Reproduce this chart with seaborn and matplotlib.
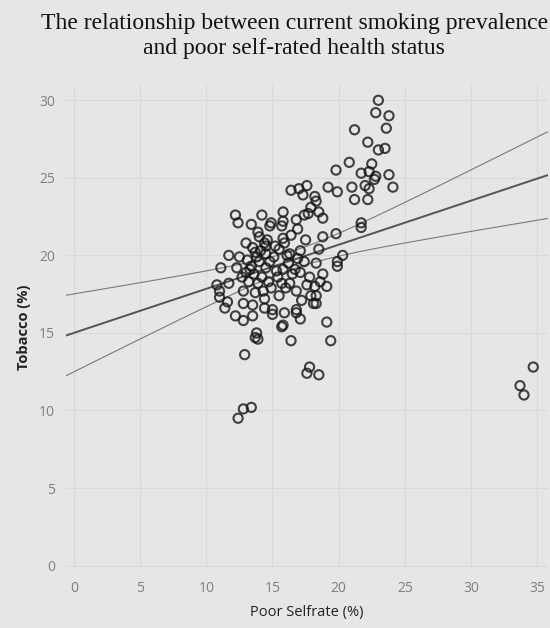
import numpy as np
import pandas as pd
import matplotlib
matplotlib.use("Agg")
import matplotlib.pyplot as plt
import seaborn as sns

# 读取的数据点 (估计值): 吸烟率 vs 自评健康差
poor_selfrate = [
    23.0, 22.8, 23.8, 23.6, 21.2, 22.2, 23.0, 23.5, 20.8, 19.8,
    22.5, 21.7, 22.3, 22.8, 22.7, 23.8, 24.1, 19.2, 19.9, 21.0,
    22.0, 22.3, 21.2, 22.2, 16.4, 17.0, 17.6, 17.3, 18.2, 18.3,
    17.9, 18.5, 18.8, 17.4, 17.7, 16.8, 16.9, 15.8, 15.8, 15.7,
    14.9, 14.8, 14.2, 13.4, 12.4, 12.2, 13.9, 14.0, 14.4, 14.5,
    13.0, 13.5, 13.7, 15.8, 15.2, 18.8, 19.8, 21.7, 21.7, 18.5,
    17.1, 16.3, 16.1, 20.3, 19.9, 19.9, 18.3, 16.7, 17.1, 18.8,
    19.1, 17.8, 17.6, 18.2, 18.6, 16.8, 17.9, 18.3, 18.1, 18.3,
    17.2, 16.8, 16.8, 15.5, 14.9, 14.7, 15.7, 16.3, 15.8, 15.3,
    14.0, 14.5, 13.3, 13.0, 14.5, 13.7, 14.3, 14.4, 14.4, 12.8,
    12.8, 13.5, 13.5, 15.0, 15.0, 15.9, 15.8, 15.7, 12.8, 19.1,
    13.8, 13.7, 13.9, 16.4, 19.4, 12.9, 17.8, 17.6, 18.5, 12.8,
    13.4, 12.4, 11.7, 11.1, 10.8, 11.0, 11.0, 11.7, 11.6, 11.4,
    12.2, 34.7, 33.7, 34.0,
    12.5, 13.1, 13.4, 13.6, 13.9, 14.2, 14.8, 15.1, 15.5, 15.9,
    16.2, 16.5, 13.2, 12.7, 14.1, 15.4, 16.0, 12.3, 14.6, 13.8,
    16.9, 17.4, 16.4, 17.5, 17.1,
]
tobacco = [
    30.0, 29.2, 29.0, 28.2, 28.1, 27.3, 26.8, 26.9, 26.0, 25.5,
    25.9, 25.3, 25.4, 25.1, 24.9, 25.2, 24.4, 24.4, 24.1, 24.4,
    24.5, 24.3, 23.6, 23.6, 24.2, 24.3, 24.5, 23.9, 23.8, 23.5,
    23.1, 22.8, 22.4, 22.6, 22.7, 22.3, 21.7, 22.8, 22.2, 21.9,
    22.1, 21.9, 22.6, 22.0, 22.1, 22.6, 21.5, 21.2, 20.8, 20.6,
    20.8, 20.5, 20.2, 21.1, 20.6, 21.2, 21.4, 22.1, 21.8, 20.4,
    20.3, 20.1, 20.0, 20.0, 19.6, 19.3, 19.5, 19.1, 18.9, 18.8,
    18.0, 18.6, 18.1, 18.0, 18.3, 17.7, 17.4, 17.4, 16.9, 16.9,
    17.1, 16.5, 16.3, 17.4, 17.9, 18.3, 18.2, 18.2, 19.1, 19.0,
    19.6, 20.1, 19.1, 18.9, 19.2, 17.6, 17.7, 17.2, 16.6, 17.7,
    16.9, 16.8, 16.1, 16.5, 16.2, 16.3, 15.5, 15.4, 15.8, 15.7,
    15.0, 14.7, 14.6, 14.5, 14.5, 13.6, 12.8, 12.4, 12.3, 10.1,
    10.2, 9.5, 20.0, 19.2, 18.1, 17.7, 17.3, 18.2, 17.0, 16.6,
    16.1, 12.8, 11.6, 11.0,
    19.9, 19.7, 19.3, 18.8, 18.2, 18.6, 19.6, 19.9, 20.4, 20.8,
    19.5, 18.8, 18.3, 18.6, 20.3, 18.6, 17.9, 19.2, 21.0, 19.9,
    19.8, 19.6, 21.3, 21.0, 15.9,
]
x_ticks = [0, 5, 10, 15, 20, 25, 30, 35]
y_ticks = [0, 5, 10, 15, 20, 25, 30]

df = pd.DataFrame({"Poor Selfrate (%)": poor_selfrate, "Tobacco (%)": tobacco})

bg = "#e6e6e6"
sns.set_style("whitegrid")
plt.rcParams["font.family"] = ["Open Sans", "DejaVu Sans"]

fig = plt.figure(figsize=(5.5, 6.28), dpi=100, facecolor=bg)
ax = fig.add_axes([0.12, 0.092, 0.876, 0.773])
ax.set_facecolor(bg)
ax.set_xlim(-0.6, 35.8)
ax.set_ylim(-0.3, 31.0)

sns.regplot(data=df, x="Poor Selfrate (%)", y="Tobacco (%)", ax=ax,
            ci=None, truncate=False,
            scatter_kws={"facecolors": "none", "edgecolors": "#161616",
                         "linewidths": 1.5, "s": 44, "zorder": 3},
            line_kws={"color": "#555555", "lw": 1.4, "zorder": 2})

# 95% 置信带 (均值)
x = np.array(poor_selfrate)
y = np.array(tobacco)
n = len(x)
b1, b0 = np.polyfit(x, y, 1)
resid = y - (b0 + b1 * x)
s = np.sqrt(np.sum(resid ** 2) / (n - 2))
xs = np.linspace(-0.6, 35.8, 100)
se = s * np.sqrt(1 / n + (xs - x.mean()) ** 2 / np.sum((x - x.mean()) ** 2))
yhat = b0 + b1 * xs
ax.plot(xs, yhat + 1.975 * se, color="#7a7a7a", lw=0.8, zorder=2)
ax.plot(xs, yhat - 1.975 * se, color="#7a7a7a", lw=0.8, zorder=2)

ax.set_xticks(x_ticks)
ax.set_yticks(y_ticks)
ax.grid(True, color="#d9d9d9", lw=0.8)
for sp in ax.spines.values():
    sp.set_visible(False)
ax.tick_params(length=0, labelsize=10, labelcolor="#7f7f7f", pad=8)
ax.set_xlabel("Poor Selfrate (%)", fontsize=10.5, color="#222222", labelpad=6)
ax.set_ylabel("Tobacco (%)", fontsize=10.5, color="#222222", fontweight="bold", labelpad=6)

fig.text(0.535, 0.98, "The relationship between current smoking prevalence\nand poor self-rated health status",
         ha="center", va="top", fontsize=17, family="Liberation Serif",
         color="#111111", linespacing=1.25)

fig.savefig("out.png", dpi=100, facecolor=bg)
